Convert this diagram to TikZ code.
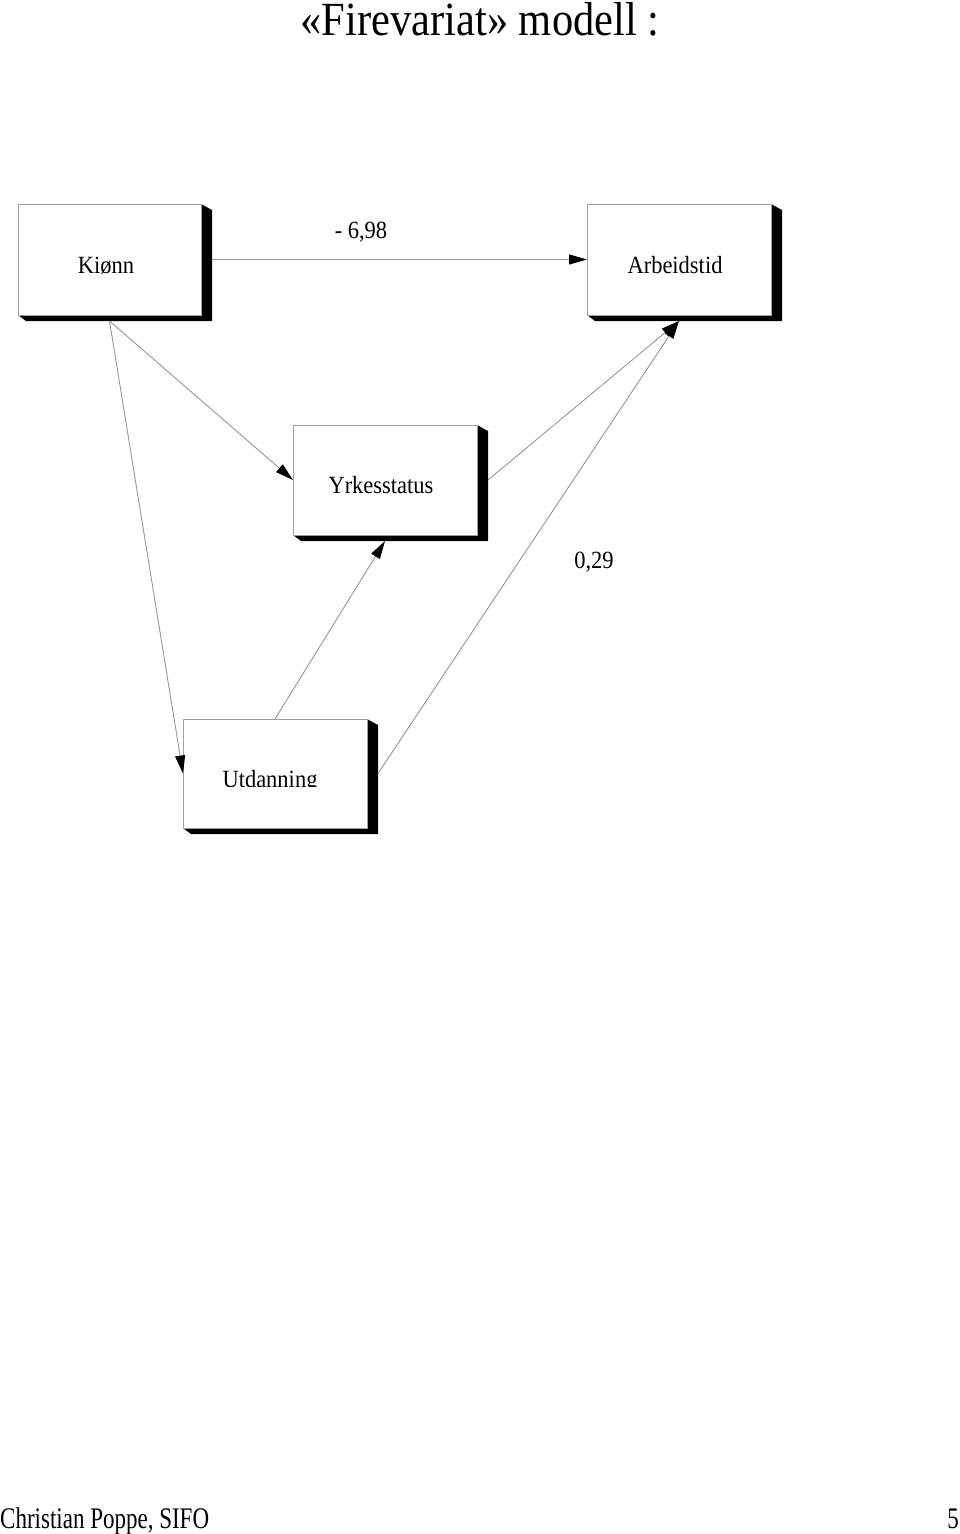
\documentclass[tikz,border=0pt]{standalone}
\usepackage{fontspec}
\setmainfont{Liberation Serif}
\usetikzlibrary{arrows.meta,calc}
\definecolor{linegray}{RGB}{150,150,150}
\definecolor{boxgray}{RGB}{160,160,160}
\newcommand\shbox[5]{% name, left, top, right, bottom
  \fill[black] (#4,#3) -- (#4+11,#3+6) -- (#4+11,#5+6) -- (#2+8,#5+6) -- (#2,#5) -- cycle;
  \node[facebox, minimum width={#4-#2}, minimum height={#5-#3}] (#1) at ({(#2+#4)/2},{(#3+#5)/2}) {};
}
\newcommand\tallA[1]{\scalebox{1}[1.1]{#1}}
\begin{document}
\begin{tikzpicture}[x=1pt,y=-1pt,
  facebox/.style={draw=boxgray, fill=white, line width=0.9pt, inner sep=0pt, outer sep=0pt},
  lbl/.style={font=\fontsize{22.5}{27}\selectfont, inner sep=0pt, anchor=base},
  conn/.style={draw=linegray, line width=0.9pt, -{Triangle[length=18pt,width=10pt,color=black]}}]
\useasboundingbox (0,0) rectangle (960,1534);
\fill[white] (0,0) rectangle (960,1534);

\node[font=\fontsize{42.5}{50}\selectfont, inner sep=0pt, anchor=base] (title) at (480,35) {\scalebox{1}[1.12]{«Firevariat» modell :}};

\shbox{kionn}{18}{204}{201}{315}
\shbox{arbeid}{587}{204}{771}{315}
\shbox{yrkes}{293}{425}{477}{535}
\shbox{utd}{183}{719}{367}{828}

\node[lbl] (kionn-t) at (106,273) {\tallA{Kiønn}};
\node[lbl] (arbeid-t) at (675,273) {\tallA{Arbeidstid}};
\node[lbl] (yrkes-t) at (381,493) {\tallA{Yrkesstatus}};
\begin{scope}
  \clip (183,719) rectangle (367,786.5);
  \node[lbl] (utd-t) at (270,787) {\tallA{Utdanning}};
\end{scope}

\coordinate (kout) at ($(kionn.south)+(0,6)$);
\draw[conn] ($(kionn.east)+(11,0)$) -- (arbeid.west);
\draw[conn] (kout) -- (yrkes.west);
\draw[conn] (kout) -- (utd.west);
\draw[conn] (utd.north) -- ($(yrkes.south)+(0,6)$);
\draw[conn] ($(yrkes.east)+(11,0)$) -- ($(arbeid.south)+(0,6)$);
\draw[conn] ($(utd.east)+(11,0)$) -- ($(arbeid.south)+(0,6)$);

\node[lbl] (l698) at (361,238) {\tallA{- 6,98}};
\node[lbl] (l029) at (594,568) {\tallA{0,29}};

\node[font=\fontsize{23}{28}\selectfont, inner sep=0pt, anchor=base west] (footer) at (0,1528) {\scalebox{1}[1.3]{Christian Poppe, SIFO}};
\node[font=\fontsize{23}{28}\selectfont, inner sep=0pt, anchor=base east] (page) at (959,1528) {\scalebox{1}[1.3]{5}};
\end{tikzpicture}
\end{document}
